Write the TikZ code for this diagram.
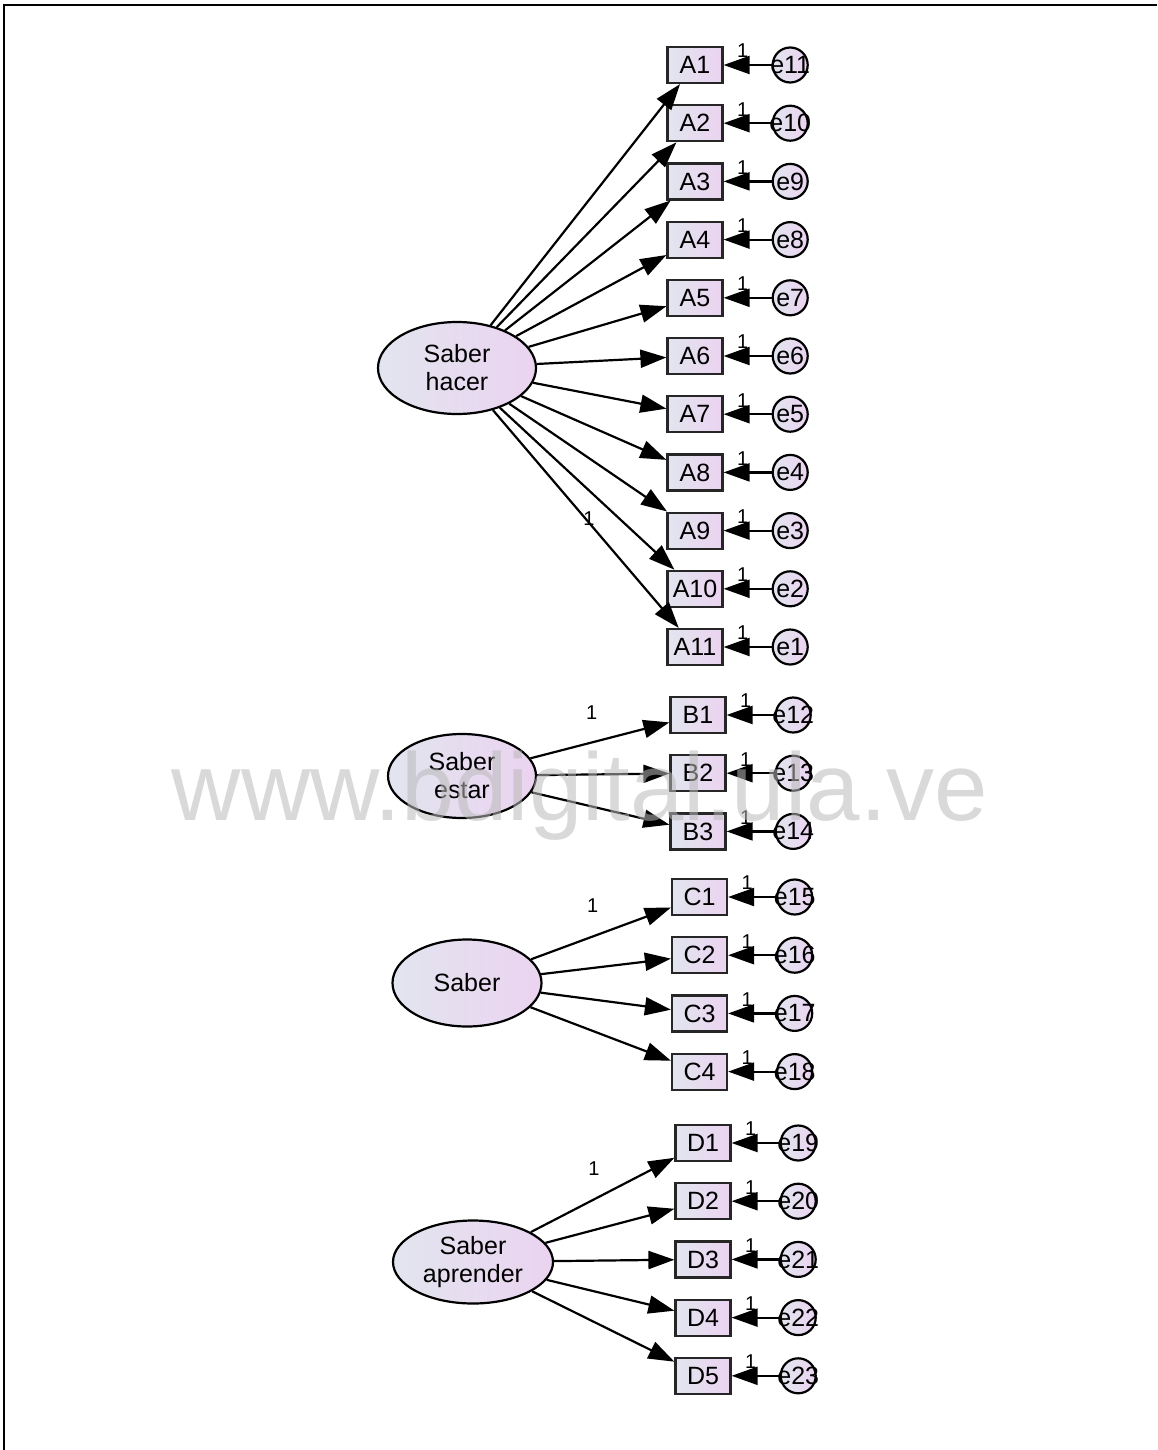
\documentclass[tikz,border=0pt]{standalone}
\usepackage{xcolor}
\usepackage{fontspec}
\setmainfont{Liberation Sans}
\usepackage{tikz}
\usetikzlibrary{positioning, shapes.geometric, arrows.meta}

\definecolor{fillleft}{HTML}{E2E5EF}
\definecolor{fillright}{HTML}{EBD3F0}

\begin{document}
\begin{tikzpicture}[x=0.5pt,y=-0.5pt,->,>={Triangle[length=13pt,width=9pt]},line width=1.1pt,
    node distance=10pt and 24pt, font=\fontsize{12.5}{14}\selectfont,
    latent/.style={ellipse, draw, left color=fillleft, right color=fillright, inner sep=0pt, align=center},
    item/.style={rectangle, draw=black!85, left color=fillleft, right color=fillright, minimum width=27.5pt, minimum height=18pt, inner sep=0pt},
    err/.style={circle, draw, left color=fillleft, right color=fillright, minimum size=17.5pt, inner sep=0pt},
    one/.style={font=\fontsize{10}{11}\selectfont, inner sep=1pt},
    fix/.style={one, above=2pt, pos=0.6}]
        \useasboundingbox (0,0) rectangle (1157,1450);
        \draw[-,line width=1.2pt] (4,1450) -- (4,5) -- (1157,5);

				\node[latent, minimum width=79pt, minimum height=46pt] (SH) at (457,368) {Saber\\hacer};
				\node[latent, minimum width=74pt, minimum height=42pt] (SE) at (462,776) {Saber\\estar};
				\node[latent, minimum width=74.5pt, minimum height=43.5pt] (S) at (467,983) {Saber};
				\node[latent, minimum width=80pt, minimum height=41.5pt] (SA) at (473,1262) {Saber\\aprender};

				\node[item] (A1) at (695,65) {A1};
				\node[item] (A2) [below=of A1] {A2};
				\node[item] (A3) [below=of A2] {A3};
				\node[item] (A4) [below=of A3] {A4};
				\node[item] (A5) [below=of A4] {A5};
				\node[item] (A6) [below=of A5] {A6};
				\node[item] (A7) [below=of A6] {A7};
				\node[item] (A8) [below=of A7] {A8};
				\node[item] (A9) [below=of A8] {A9};
				\node[item] (A10) [below=of A9] {A10};
				\node[item] (A11) [below=of A10] {A11};

				\node[item] (B1) at (698,715) {B1};
				\node[item] (B2) [below=of B1] {B2};
				\node[item] (B3) [below=of B2] {B3};

				\node[item] (C1) at (699.5,897) {C1};
				\node[item] (C2) [below=of C1] {C2};
				\node[item] (C3) [below=of C2] {C3};
				\node[item] (C4) [below=of C3] {C4};

				\node[item] (D1) at (703,1143) {D1};
				\node[item] (D2) [below=of D1] {D2};
				\node[item] (D3) [below=of D2] {D3};
				\node[item] (D4) [below=of D3] {D4};
				\node[item] (D5) [below=of D4] {D5};

				\node[err, label=center:e11] (e11) [right=of A1] {};
				\node[err, label=center:e10] (e10) [right=of A2] {};
				\node[err, label=center:e9] (e9) [right=of A3] {};
				\node[err, label=center:e8] (e8) [right=of A4] {};
				\node[err, label=center:e7] (e7) [right=of A5] {};
				\node[err, label=center:e6] (e6) [right=of A6] {};
				\node[err, label=center:e5] (e5) [right=of A7] {};
				\node[err, label=center:e4] (e4) [right=of A8] {};
				\node[err, label=center:e3] (e3) [right=of A9] {};
				\node[err, label=center:e2] (e2) [right=of A10] {};
				\node[err, label=center:e1] (e1) [right=of A11] {};
				\node[err, label=center:e12] (e12) [right=of B1] {};
				\node[err, label=center:e13] (e13) [right=of B2] {};
				\node[err, label=center:e14] (e14) [right=of B3] {};
				\node[err, label=center:e15] (e15) [right=of C1] {};
				\node[err, label=center:e16] (e16) [right=of C2] {};
				\node[err, label=center:e17] (e17) [right=of C3] {};
				\node[err, label=center:e18] (e18) [right=of C4] {};
				\node[err, label=center:e19] (e19) [right=of D1] {};
				\node[err, label=center:e20] (e20) [right=of D2] {};
				\node[err, label=center:e21] (e21) [right=of D3] {};
				\node[err, label=center:e22] (e22) [right=of D4] {};
				\node[err, label=center:e23] (e23) [right=of D5] {};

				\path (SH) edge (A1) edge (A2) edge (A3) edge (A4) edge (A5)
                   edge (A6) edge (A7) edge (A8) edge (A9) edge (A10)
                   edge node[one, pos=0.5, xshift=1.5pt] {1} (A11)
              (SE) edge node[one, pos=0.44, above=10pt] {1} (B1) edge (B2) edge (B3)
              (S) edge node[one, pos=0.44, above=10.3pt] {1} (C1) edge (C2) edge (C3) edge (C4)
              (SA) edge node[one, pos=0.44, above=10.5pt] {1} (D1) edge (D2) edge (D3) edge (D4) edge (D5);

				\path (e11) edge node[fix] {1} (A1)
              (e10) edge node[fix] {1} (A2)
              (e9) edge node[fix] {1} (A3)
              (e8) edge node[fix] {1} (A4)
              (e7) edge node[fix] {1} (A5)
              (e6) edge node[fix] {1} (A6)
              (e5) edge node[fix] {1} (A7)
              (e4) edge node[fix] {1} (A8)
              (e3) edge node[fix] {1} (A9)
              (e2) edge node[fix] {1} (A10)
              (e1) edge node[fix] {1} (A11)
              (e12) edge node[fix] {1} (B1)
              (e13) edge node[fix] {1} (B2)
              (e14) edge node[fix] {1} (B3)
              (e15) edge node[fix] {1} (C1)
              (e16) edge node[fix] {1} (C2)
              (e17) edge node[fix] {1} (C3)
              (e18) edge node[fix] {1} (C4)
              (e19) edge node[fix] {1} (D1)
              (e20) edge node[fix] {1} (D2)
              (e21) edge node[fix] {1} (D3)
              (e22) edge node[fix] {1} (D4)
              (e23) edge node[fix] {1} (D5);

        \node[text=gray!55, text opacity=0.55, font=\fontsize{48}{48}\selectfont, anchor=base] (wm) at (580,820) {www.bdigital.ula.ve};
			\end{tikzpicture}
\end{document}
